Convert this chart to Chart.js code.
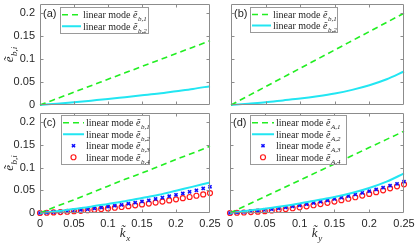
<!DOCTYPE html>
<html>
<head>
<meta charset="utf-8">
<script src="https://cdn.jsdelivr.net/npm/chart.js@4.4.0/dist/chart.umd.min.js"></script>
<style>
  html, body { margin: 0; padding: 0; background: #fff; }
  #wrap { position: relative; width: 415px; height: 244px; overflow: hidden; }
  canvas { position: absolute; }
</style>
</head>
<body>
<div id="wrap">
  <canvas id="pa" width="213" height="115" style="left:0;top:0"></canvas>
  <canvas id="pb" width="210" height="115" style="left:205px;top:0"></canvas>
  <canvas id="pc" width="225" height="144" style="left:0;top:100px"></canvas>
  <canvas id="pd" width="210" height="144" style="left:205px;top:100px"></canvas>
</div>
<script>
// k values for the solid / dashed curves and for the markers
const kLine = [0, 0.025, 0.05, 0.075, 0.1, 0.125, 0.15, 0.175, 0.2, 0.225, 0.25];
const kMark = [0, 0.01, 0.02, 0.03, 0.04, 0.05, 0.06, 0.07, 0.08, 0.09, 0.1, 0.11, 0.12,
  0.13, 0.14, 0.15, 0.16, 0.17, 0.18, 0.19, 0.2, 0.21, 0.22, 0.23, 0.24, 0.25];

const xTicks = [0, 0.05, 0.1, 0.15, 0.2, 0.25];
const yTicks = [0, 0.05, 0.1, 0.15, 0.2];

// (a)
const a1 = [0, 0.014, 0.028, 0.042, 0.056, 0.07, 0.084, 0.098, 0.112, 0.126, 0.14];
const a2 = [0, 0.003, 0.006, 0.0095, 0.013, 0.017, 0.021, 0.025, 0.03, 0.035, 0.041];
// (b)
const b1 = [0, 0.02, 0.04, 0.06, 0.08, 0.1, 0.12, 0.14, 0.16, 0.18, 0.2];
const b2 = [0, 0.003, 0.006, 0.01, 0.014, 0.019, 0.025, 0.033, 0.043, 0.056, 0.073];
// (c)
const c1 = [0, 0.015, 0.029, 0.044, 0.059, 0.074, 0.088, 0.103, 0.118, 0.132, 0.147];
const c2 = [0, 0.004, 0.009, 0.014, 0.02, 0.026, 0.033, 0.04, 0.049, 0.058, 0.067];
const c3 = [0, 0.001, 0.002, 0.003, 0.004, 0.0055, 0.007, 0.0085, 0.01, 0.012, 0.014, 0.016, 0.018,
  0.0205, 0.023, 0.0255, 0.028, 0.031, 0.034, 0.037, 0.04, 0.043, 0.0465, 0.05, 0.054, 0.0575];
const c4 = [0, 0.0006, 0.0012, 0.002, 0.0028, 0.0038, 0.0048, 0.006, 0.0072, 0.0086, 0.01, 0.0116, 0.0132,
  0.015, 0.0168, 0.0188, 0.0208, 0.023, 0.0252, 0.0276, 0.03, 0.0326, 0.0352, 0.038, 0.0408, 0.0438];
// (d)
const d1 = [0, 0.018, 0.036, 0.054, 0.072, 0.09, 0.108, 0.126, 0.144, 0.162, 0.18];
const d2 = [0, 0.005, 0.0095, 0.015, 0.021, 0.028, 0.035, 0.044, 0.055, 0.069, 0.087];
const d3 = [0, 0.0011, 0.0023, 0.0036, 0.0051, 0.0068, 0.0085, 0.0104, 0.0125, 0.0147, 0.017, 0.0195, 0.0221,
  0.0248, 0.0277, 0.0308, 0.0339, 0.0372, 0.0407, 0.0443, 0.048, 0.0519, 0.0559, 0.06, 0.0643, 0.0688];
const d4 = [0, 0.0005, 0.0011, 0.002, 0.003, 0.0041, 0.0055, 0.007, 0.0086, 0.0105, 0.0125, 0.0147, 0.017,
  0.0196, 0.0223, 0.0251, 0.0282, 0.0314, 0.0347, 0.0383, 0.042, 0.0459, 0.0499, 0.0542, 0.0586, 0.0631];

const legendText = 'linear mode ';
const axisColor = '#8c8c8c';
const textColor = '#262626';
const serif = '"Liberation Serif", "DejaVu Serif", serif';
const sans = '"Liberation Sans", Arial, sans-serif';

const pts = (xs, ys) => xs.map((x, i) => ({ x, y: ys[i] }));

const greenLine = (ys, sub) => ({
  label: legendText + 'ẽ' + sub, sub, data: pts(kLine, ys),
  borderColor: '#22ee22', borderWidth: 1.6, borderDash: [6, 4],
  pointRadius: 0, cubicInterpolationMode: 'monotone', clip: false
});
const cyanLine = (ys, sub) => ({
  label: legendText + 'ẽ' + sub, sub, data: pts(kLine, ys),
  borderColor: '#22e6f2', borderWidth: 2, pointRadius: 0,
  cubicInterpolationMode: 'monotone', clip: false
});
const blueMarks = (ys, sub) => ({
  label: legendText + 'ẽ' + sub, sub, data: pts(kMark, ys), showLine: false,
  pointStyle: 'crossRot', pointRadius: 2.2, pointBorderWidth: 1.6,
  borderColor: '#1010ff', backgroundColor: '#1010ff', clip: false
});
const redMarks = (ys, sub) => ({
  label: legendText + 'ẽ' + sub, sub, data: pts(kMark, ys), showLine: false,
  pointStyle: 'circle', pointRadius: 2.5, pointBorderWidth: 1.2,
  borderColor: '#ff1a1a', backgroundColor: 'rgba(0,0,0,0)', clip: false
});

// text with a subscript, drawn left to right from x
function mathText(ctx, x, y, base, sub, size, subSize) {
  ctx.font = 'italic ' + size + 'px ' + serif;
  ctx.fillText(base, x, y);
  const w = ctx.measureText(base).width;
  ctx.font = 'italic ' + subSize + 'px ' + serif;
  ctx.fillText(sub, x + w + 0.5, y + size * 0.28);
  return w + 0.5 + ctx.measureText(sub).width;
}
function mathWidth(ctx, base, sub, size, subSize) {
  ctx.font = 'italic ' + size + 'px ' + serif;
  const w = ctx.measureText(base).width;
  ctx.font = 'italic ' + subSize + 'px ' + serif;
  return w + 0.5 + ctx.measureText(sub).width;
}

const matlabPlugin = {
  id: 'matlab',
  afterDatasetsDraw(chart) {
    const { ctx, chartArea: a, scales: { x, y } } = chart;
    const L = Math.round(a.left) + 0.5, R = Math.round(a.right) - 0.5;
    const T = Math.round(a.top) + 0.5, B = Math.round(a.bottom) - 0.5;
    ctx.save();
    ctx.strokeStyle = axisColor;
    ctx.lineWidth = 1;
    ctx.beginPath();
    ctx.rect(L, T, R - L, B - T);
    xTicks.slice(1, -1).forEach(v => {
      const px = Math.round(x.getPixelForValue(v)) + 0.5;
      ctx.moveTo(px, B); ctx.lineTo(px, B - 3);
      ctx.moveTo(px, T); ctx.lineTo(px, T + 3);
    });
    yTicks.slice(1).forEach(v => {
      const py = Math.round(y.getPixelForValue(v)) + 0.5;
      ctx.moveTo(L, py); ctx.lineTo(L + 3, py);
      ctx.moveTo(R, py); ctx.lineTo(R - 3, py);
    });
    ctx.stroke();
    ctx.restore();
  },
  afterDraw(chart, args, o) {
    const { ctx, chartArea: a } = chart;
    ctx.save();
    ctx.fillStyle = textColor;
    // panel letter
    ctx.font = '11px ' + sans;
    ctx.textBaseline = 'middle';
    ctx.fillText(o.tag, a.left + 3, a.top + 10);
    ctx.textBaseline = 'alphabetic';

    // legend box
    const lg = o.legend;
    const rows = chart.data.datasets.length;
    ctx.fillStyle = '#fff';
    ctx.fillRect(lg.x, lg.y, lg.w, rows * lg.rowH + 3);
    ctx.strokeStyle = '#9a9a9a';
    ctx.lineWidth = 1;
    ctx.strokeRect(lg.x + 0.5, lg.y + 0.5, lg.w, rows * lg.rowH + 3);
    chart.data.datasets.forEach((ds, i) => {
      const cy = lg.y + 2 + lg.rowH * (i + 0.5);
      const sx = lg.x + 2, ex = sx + lg.sampleW;
      ctx.save();
      if (ds.showLine === false) {
        ctx.strokeStyle = ds.borderColor;
        ctx.fillStyle = ds.backgroundColor;
        ctx.lineWidth = ds.pointBorderWidth;
        Chart.helpers.drawPoint(ctx, {
          pointStyle: ds.pointStyle, radius: ds.pointRadius, rotation: 0,
          borderWidth: ds.pointBorderWidth
        }, (sx + ex) / 2, cy);
      } else {
        ctx.strokeStyle = ds.borderColor;
        ctx.lineWidth = ds.borderWidth;
        ctx.setLineDash(ds.borderDash || []);
        ctx.beginPath();
        ctx.moveTo(sx, cy); ctx.lineTo(ex, cy);
        ctx.stroke();
      }
      ctx.restore();
      ctx.fillStyle = textColor;
      ctx.font = '10px ' + serif;
      const tx = ex + 2, ty = cy + 3.5;
      ctx.fillText(legendText, tx, ty);
      const w = ctx.measureText(legendText).width;
      mathText(ctx, tx + w, ty, 'ẽ', ds.sub, 10, 7);
    });

    // axis titles
    ctx.fillStyle = textColor;
    if (o.yTitle) {
      const cy = (a.top + a.bottom) / 2;
      ctx.save();
      ctx.translate(13, cy);
      ctx.rotate(-Math.PI / 2);
      const w = mathWidth(ctx, 'ẽ', 'b,i', 13, 9);
      mathText(ctx, -w / 2, 0, 'ẽ', 'b,i', 13, 9);
      ctx.restore();
    }
    if (o.xTitle) {
      const cx = (a.left + a.right) / 2;
      const w = mathWidth(ctx, 'k\u0303', o.xTitle, 13, 9);
      mathText(ctx, cx - w / 2, a.bottom + 24, 'k\u0303', o.xTitle, 13, 9);
    }
    ctx.restore();
  }
};

function makePanel(id, p) {
  new Chart(document.getElementById(id), {
    type: 'line',
    data: { datasets: p.datasets },
    options: {
      responsive: false,
      animation: false,
      events: [],
      layout: { padding: { top: p.padTop, right: p.padRight, left: 0, bottom: 0 } },
      plugins: {
        legend: { display: false },
        tooltip: { enabled: false },
        matlab: { tag: p.tag, legend: p.legend, yTitle: p.yLabels, xTitle: p.xTitle }
      },
      scales: {
        x: {
          type: 'linear', min: 0, max: 0.25,
          grid: { display: false, drawTicks: false }, border: { display: false },
          afterBuildTicks: s => { s.ticks = xTicks.map(v => ({ value: v })); },
          afterFit: s => { s.height = p.xAxisH; s.paddingLeft = 0; s.paddingRight = 0; },
          ticks: {
            display: !!p.xTitle, padding: 4, color: textColor, maxRotation: 0,
            font: { family: sans, size: 11 }, callback: v => String(v)
          }
        },
        y: {
          type: 'linear', min: 0, max: 0.22,
          grid: { display: false, drawTicks: false }, border: { display: false },
          afterBuildTicks: s => { s.ticks = yTicks.map(v => ({ value: v })); },
          afterFit: s => { s.width = p.yAxisW; s.paddingTop = 0; s.paddingBottom = 0; },
          ticks: {
            display: p.yLabels, padding: 5, color: textColor,
            font: { family: sans, size: 11 }, callback: v => String(v)
          }
        }
      }
    },
    plugins: [matlabPlugin]
  });
}

makePanel('pa', {
  tag: '(a)', yLabels: true, xTitle: null, yAxisW: 40, padTop: 4, padRight: 3, xAxisH: 10,
  legend: { x: 60, y: 7, w: 88, rowH: 11.5, sampleW: 19 },
  datasets: [greenLine(a1, 'b,1'), cyanLine(a2, 'b,2')]
});
makePanel('pb', {
  tag: '(b)', yLabels: false, xTitle: null, yAxisW: 26, padTop: 4, padRight: 11, xAxisH: 10,
  legend: { x: 45, y: 7, w: 87, rowH: 11, sampleW: 19 },
  datasets: [greenLine(b1, 'b,1'), cyanLine(b2, 'b,2')]
});
makePanel('pc', {
  tag: '(c)', yLabels: true, xTitle: 'x', yAxisW: 40, padTop: 13, padRight: 15, xAxisH: 31,
  legend: { x: 61, y: 15, w: 88, rowH: 11.5, sampleW: 21 },
  datasets: [greenLine(c1, 'b,1'), cyanLine(c2, 'b,2'), blueMarks(c3, 'b,3'), redMarks(c4, 'b,4')]
});
makePanel('pd', {
  tag: '(d)', yLabels: false, xTitle: 'y', yAxisW: 25, padTop: 13, padRight: 11, xAxisH: 31,
  legend: { x: 45, y: 15, w: 96, rowH: 11.5, sampleW: 22 },
  datasets: [greenLine(d1, 'A,1'), cyanLine(d2, 'A,2'), blueMarks(d3, 'A,3'), redMarks(d4, 'A,4')]
});
</script>
</body>
</html>
